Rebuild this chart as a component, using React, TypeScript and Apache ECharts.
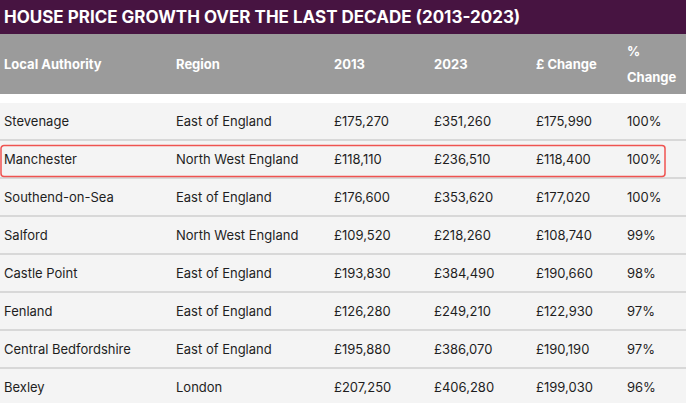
import React, { useEffect, useRef } from "react";
import * as echarts from "echarts";

const title = "HOUSE PRICE GROWTH OVER THE LAST DECADE (2013-2023)";
const headers = ["Local Authority", "Region", "2013", "2023", "£ Change", "%\nChange"];
const authorities = ["Stevenage", "Manchester", "Southend-on-Sea", "Salford", "Castle Point", "Fenland", "Central Bedfordshire", "Bexley"];
const regions = ["East of England", "North West England", "East of England", "North West England", "East of England", "East of England", "East of England", "London"];
const price2013 = ["£175,270", "£118,110", "£176,600", "£109,520", "£193,830", "£126,280", "£195,880", "£207,250"];
const price2023 = ["£351,260", "£236,510", "£353,620", "£218,260", "£384,490", "£249,210", "£386,070", "£406,280"];
const poundChange = ["£175,990", "£118,400", "£177,020", "£108,740", "£190,660", "£122,930", "£190,190", "£199,030"];
const pctChange = ["100%", "100%", "100%", "99%", "98%", "97%", "97%", "96%"];
const highlighted = "Manchester";

const W = 686;
const H = 403;
const colX = [4, 176, 334, 434, 536, 627];
const FONT = "Inter, 'Noto Sans', sans-serif";

export default function App() {
  const ref = useRef<HTMLDivElement>(null);
  useEffect(() => {
    if (!ref.current) return;
    const chart = echarts.init(ref.current, null, { renderer: "svg" });
    const g: any[] = [];
    // title bar
    g.push({ type: "rect", shape: { x: 0, y: 0, width: W, height: 34 }, style: { fill: "#471441" } });
    g.push({
      type: "text", x: 4, y: 17,
      style: { text: title, fill: "#ffffff", font: `700 17px ${FONT}`, textVerticalAlign: "middle" },
    });
    // header
    g.push({ type: "rect", shape: { x: 0, y: 34, width: W, height: 60 }, style: { fill: "#9b9b9b" } });
    headers.forEach((h, i) => {
      g.push({
        type: "text", x: colX[i], y: 64,
        style: { text: h, fill: "#ffffff", font: `700 13px ${FONT}`, textVerticalAlign: "middle", lineHeight: 26 },
      });
    });
    // body background
    g.push({ type: "rect", shape: { x: 0, y: 103, width: W, height: H - 103 }, style: { fill: "#f4f4f4" } });
    const rowTop = 103;
    const rowH = 38;
    authorities.forEach((a, r) => {
      const cy = rowTop + 18 + r * rowH;
      const cells = [a, regions[r], price2013[r], price2023[r], poundChange[r], pctChange[r]];
      cells.forEach((c, i) => {
        g.push({
          type: "text", x: colX[i], y: cy,
          style: { text: c, fill: "#1e1e1e", font: `400 13px ${FONT}`, textVerticalAlign: "middle" },
        });
      });
      if (r < authorities.length - 1) {
        const ly = rowTop + 37 + r * rowH;
        g.push({ type: "line", shape: { x1: 0, y1: ly, x2: W, y2: ly }, style: { stroke: "#cfcfcf", lineWidth: 1.5 } });
      }
      if (a === highlighted) {
        g.push({
          type: "rect", shape: { x: 1, y: cy - 13.5, width: 664, height: 31, r: 3 },
          style: { fill: "none", stroke: "#ef5350", lineWidth: 1.5 }, z: 10,
        });
      }
    });
    chart.setOption({ animation: false, graphic: { elements: g } });
    return () => chart.dispose();
  }, []);
  return <div ref={ref} style={{ position: "absolute", left: 0, top: 0, width: W, height: H }} />;
}
